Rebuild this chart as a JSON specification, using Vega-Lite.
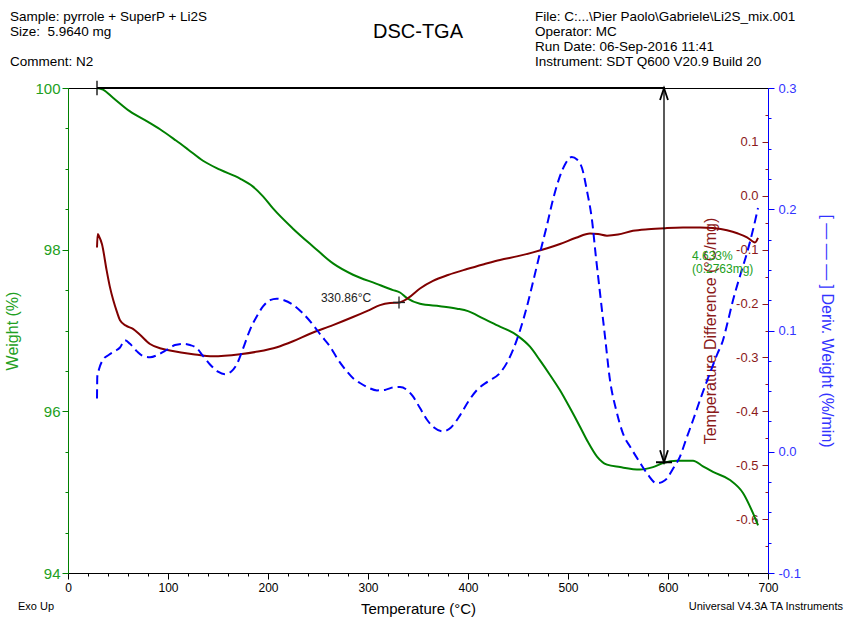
{
  "$schema": "https://vega.github.io/schema/vega-lite/v6.json",
  "width": 700,
  "height": 485,
  "autosize": {"type": "none"},
  "padding": {"left": 68, "top": 88, "right": 77, "bottom": 46},
  "background": "white",
  "config": {
    "view": {"stroke": "black", "strokeWidth": 1},
    "font": "Liberation Sans",
    "axis": {"grid": false, "labelFont": "Liberation Sans", "titleFont": "Liberation Sans", "titleFontWeight": "normal", "labelFlush": false, "labelOverlap": false}
  },
  "datasets": {
    "weight": [
      {"T":29,"W":100.0},{"T":35,"W":99.98},{"T":45,"W":99.88},{"T":62,"W":99.71},{"T":80,"W":99.58},{"T":92,"W":99.49},{"T":108,"W":99.35},{"T":120,"W":99.24},{"T":135,"W":99.1},{"T":152,"W":98.99},{"T":172,"W":98.88},{"T":185,"W":98.78},{"T":195,"W":98.66},{"T":205,"W":98.51},{"T":225,"W":98.26},{"T":245,"W":98.04},{"T":265,"W":97.83},{"T":285,"W":97.69},{"T":308,"W":97.58},{"T":325,"W":97.5},{"T":332,"W":97.47},{"T":339,"W":97.4},{"T":352,"W":97.33},{"T":372,"W":97.3},{"T":389,"W":97.27},{"T":400,"W":97.24},{"T":415,"W":97.15},{"T":430,"W":97.06},{"T":449,"W":96.94},{"T":462,"W":96.8},{"T":472,"W":96.63},{"T":482,"W":96.45},{"T":492,"W":96.26},{"T":502,"W":96.04},{"T":512,"W":95.81},{"T":520,"W":95.62},{"T":529,"W":95.44},{"T":539,"W":95.34},{"T":552,"W":95.31},{"T":572,"W":95.28},{"T":585,"W":95.31},{"T":595,"W":95.36},{"T":609,"W":95.39},{"T":625,"W":95.39},{"T":635,"W":95.32},{"T":645,"W":95.25},{"T":662,"W":95.15},{"T":675,"W":94.99},{"T":685,"W":94.74},{"T":690,"W":94.59}
    ],
    "dtd": [
      {"T":29,"DT":-0.096},{"T":29.7,"DT":-0.071},{"T":31,"DT":-0.075},{"T":34,"DT":-0.09},{"T":38.7,"DT":-0.139},{"T":42,"DT":-0.17},{"T":45.3,"DT":-0.194},{"T":49,"DT":-0.216},{"T":52,"DT":-0.231},{"T":58,"DT":-0.241},{"T":65,"DT":-0.247},{"T":72,"DT":-0.258},{"T":82,"DT":-0.275},{"T":92,"DT":-0.283},{"T":102,"DT":-0.287},{"T":125,"DT":-0.294},{"T":145,"DT":-0.298},{"T":172,"DT":-0.294},{"T":190,"DT":-0.289},{"T":209,"DT":-0.281},{"T":225,"DT":-0.27},{"T":242,"DT":-0.256},{"T":265,"DT":-0.24},{"T":285,"DT":-0.225},{"T":300,"DT":-0.213},{"T":312,"DT":-0.203},{"T":322,"DT":-0.199},{"T":331,"DT":-0.198},{"T":340,"DT":-0.19},{"T":352,"DT":-0.172},{"T":365,"DT":-0.158},{"T":380,"DT":-0.147},{"T":399,"DT":-0.136},{"T":416,"DT":-0.127},{"T":432,"DT":-0.119},{"T":450,"DT":-0.112},{"T":465,"DT":-0.105},{"T":480,"DT":-0.097},{"T":492,"DT":-0.0895},{"T":508,"DT":-0.078},{"T":522,"DT":-0.07},{"T":530,"DT":-0.071},{"T":539,"DT":-0.074},{"T":550,"DT":-0.072},{"T":565,"DT":-0.065},{"T":580,"DT":-0.062},{"T":599,"DT":-0.06},{"T":615,"DT":-0.059},{"T":632,"DT":-0.0587},{"T":645,"DT":-0.06},{"T":659,"DT":-0.064},{"T":670,"DT":-0.07},{"T":679,"DT":-0.077},{"T":687,"DT":-0.0865},{"T":690,"DT":-0.078}
    ],
    "deriv": [
      {"T":29,"D":0.044},{"T":29.3,"D":0.062},{"T":31,"D":0.068},{"T":35,"D":0.076},{"T":41,"D":0.08},{"T":47,"D":0.083},{"T":52,"D":0.086},{"T":57,"D":0.092},{"T":62,"D":0.089},{"T":68.7,"D":0.083},{"T":75,"D":0.079},{"T":82,"D":0.078},{"T":90,"D":0.08},{"T":98.7,"D":0.084},{"T":107,"D":0.088},{"T":115,"D":0.089},{"T":122,"D":0.088},{"T":128.7,"D":0.0855},{"T":135,"D":0.079},{"T":142,"D":0.072},{"T":150,"D":0.066},{"T":157,"D":0.064},{"T":163,"D":0.066},{"T":168.7,"D":0.072},{"T":175,"D":0.085},{"T":182,"D":0.1006},{"T":189,"D":0.112},{"T":195,"D":0.1198},{"T":202,"D":0.125},{"T":208.7,"D":0.1262},{"T":216,"D":0.125},{"T":225,"D":0.1212},{"T":235,"D":0.114},{"T":245,"D":0.1047},{"T":253,"D":0.096},{"T":262,"D":0.0868},{"T":270,"D":0.076},{"T":279,"D":0.0662},{"T":286,"D":0.06},{"T":292,"D":0.0567},{"T":300,"D":0.053},{"T":309,"D":0.0506},{"T":317,"D":0.051},{"T":325,"D":0.053},{"T":332,"D":0.0534},{"T":339,"D":0.051},{"T":345,"D":0.0456},{"T":352,"D":0.036},{"T":359,"D":0.0264},{"T":366,"D":0.02},{"T":375,"D":0.0168},{"T":383,"D":0.02},{"T":392,"D":0.03},{"T":400,"D":0.041},{"T":409,"D":0.051},{"T":420,"D":0.058},{"T":432,"D":0.065},{"T":440,"D":0.075},{"T":445,"D":0.084},{"T":452,"D":0.1},{"T":459,"D":0.12},{"T":465,"D":0.14},{"T":472,"D":0.164},{"T":479,"D":0.187},{"T":485,"D":0.208},{"T":491,"D":0.225},{"T":497,"D":0.237},{"T":503.7,"D":0.243},{"T":509,"D":0.241},{"T":514,"D":0.234},{"T":519,"D":0.215},{"T":524,"D":0.191},{"T":528,"D":0.16},{"T":532,"D":0.131},{"T":537,"D":0.095},{"T":542,"D":0.059},{"T":548,"D":0.035},{"T":555,"D":0.015},{"T":563,"D":0.003},{"T":572,"D":-0.009},{"T":580,"D":-0.019},{"T":588.7,"D":-0.026},{"T":594,"D":-0.025},{"T":599,"D":-0.022},{"T":605,"D":-0.014},{"T":612,"D":-0.004},{"T":618,"D":0.01},{"T":625,"D":0.026},{"T":633,"D":0.045},{"T":642,"D":0.065},{"T":649,"D":0.08},{"T":655,"D":0.092},{"T":660,"D":0.108},{"T":665,"D":0.125},{"T":672,"D":0.145},{"T":679,"D":0.164},{"T":685,"D":0.183},{"T":690,"D":0.201}
    ],
    "stepThick": [
      {"T":29,"T2":597,"W":100,"W2":100},
      {"T":588,"T2":604,"W":95.37,"W2":95.37}
    ],
    "stepThin": [
      {"T":29,"T2":29,"W":100.09,"W2":99.91},
      {"T":596,"T2":596,"W":100,"W2":95.37}
    ],
    "arrowUp": [{"T":596,"W":100}],
    "arrowDown": [{"T":596,"W":95.37}],
    "stepLabel": [{"T":624,"W":97.92,"label":"4.633%"},{"T":624,"W":97.76,"label":"(0.2763mg)"}],
    "onset": [
      {"T":325,"T2":337,"DT":-0.198,"DT2":-0.198},
      {"T":331,"T2":331,"DT":-0.187,"DT2":-0.209}
    ],
    "onsetLabel": [{"T":278,"DT":-0.189,"label":"330.86°C"}],
    "headerLeft": [
      {"T":-58,"W":100.878,"label":"Sample: pyrrole + SuperP + Li2S"},
      {"T":-58,"W":100.693,"label":"Size:\u00a0 5.9640 mg"},
      {"T":-58,"W":100.322,"label":"Comment: N2"},
      {"T":467,"W":100.878,"label":"File: C:...\\Pier Paolo\\Gabriele\\Li2S_mix.001"},
      {"T":467,"W":100.693,"label":"Operator: MC"},
      {"T":467,"W":100.507,"label":"Run Date: 06-Sep-2016 11:41"},
      {"T":467,"W":100.322,"label":"Instrument: SDT Q600 V20.9 Build 20"}
    ],
    "footerLeft": [
      {"T":-50,"W":93.579,"label":"Exo Up"}
    ],
    "footerRight": [
      {"T":775,"W":93.579,"label":"Universal V4.3A TA Instruments"}
    ],
    "mainTitle": [{"T":350,"W":100.693,"label":"DSC-TGA"}]
  },
  "encoding": {
    "x": {
      "field": "T", "type": "quantitative",
      "scale": {"domain": [0, 700], "nice": false, "zero": false},
      "axis": {
        "title": "Temperature (°C)",
        "values": [0,20,40,60,80,100,120,140,160,180,200,220,240,260,280,300,320,340,360,380,400,420,440,460,480,500,520,540,560,580,600,620,640,660,680,700],
        "labelExpr": "datum.value % 100 === 0 ? datum.label : ''",
        "tickSize": {"condition": {"test": "datum.value % 100 === 0", "value": 6}, "value": 3},
        "domainColor": "black", "tickColor": "black", "labelColor": "black", "titleColor": "black",
        "labelFontSize": 12, "titleFontSize": 15, "labelPadding": 3, "titlePadding": 8
      }
    }
  },
  "layer": [
    {
      "data": {"name": "weight"},
      "mark": {"type": "line", "color": "#008000", "strokeWidth": 2, "interpolate": "monotone"},
      "encoding": {
        "y": {
          "field": "W", "type": "quantitative",
          "scale": {"domain": [94, 100], "nice": false, "zero": false},
          "axis": {
            "orient": "left", "title": "Weight (%)",
            "values": [94,94.5,95,95.5,96,96.5,97,97.5,98,98.5,99,99.5,100],
            "labelExpr": "datum.value % 2 === 0 ? format(datum.value, 'd') : ''",
            "tickSize": {"condition": {"test": "datum.value % 2 === 0", "value": 6}, "value": 3},
            "domainColor": "#008000", "tickColor": "#008000", "labelColor": "#22A022", "titleColor": "#22A022",
            "labelFontSize": 15, "titleFontSize": 16, "labelPadding": 2, "titlePadding": 14
          }
        }
      }
    },
    {
      "data": {"name": "dtd"},
      "mark": {"type": "line", "color": "#800000", "strokeWidth": 2, "interpolate": "monotone"},
      "encoding": {
        "y": {
          "field": "DT", "type": "quantitative",
          "scale": {"domain": [-0.7, 0.2], "nice": false, "zero": false},
          "axis": {
            "orient": "left", "offset": -700, "title": "Temperature Difference (°C/mg)",
            "values": [-0.65,-0.6,-0.55,-0.5,-0.45,-0.4,-0.35,-0.3,-0.25,-0.2,-0.15,-0.1,-0.05,0,0.05,0.1,0.15],
            "labelExpr": "abs(datum.value*10 - round(datum.value*10)) < 0.001 ? replace(format(datum.value, '.1f'), '\u2212', '-') : ''",
            "tickSize": {"condition": {"test": "abs(datum.value*10 - round(datum.value*10)) < 0.001", "value": 6}, "value": 3},
            "domain": false,
            "tickColor": "#8B1A1A", "labelColor": "#8B1A1A", "titleColor": "#8B1A1A",
            "labelFontSize": 13, "titleFontSize": 16, "labelPadding": 4, "titlePadding": 17
          }
        }
      }
    },
    {
      "data": {"name": "deriv"},
      "mark": {"type": "line", "color": "#0000FF", "strokeWidth": 2, "strokeDash": [9, 5], "interpolate": "monotone"},
      "encoding": {
        "y": {
          "field": "D", "type": "quantitative",
          "scale": {"domain": [-0.1, 0.3], "nice": false, "zero": false},
          "axis": {
            "orient": "right", "title": "[ — — — ] Deriv. Weight (%/min)",
            "values": [-0.1,-0.075,-0.05,-0.025,0,0.025,0.05,0.075,0.1,0.125,0.15,0.175,0.2,0.225,0.25,0.275,0.3],
            "labelExpr": "abs(datum.value*10 - round(datum.value*10)) < 0.001 ? replace(format(datum.value, '.1f'), '\u2212', '-') : ''",
            "tickSize": {"condition": {"test": "abs(datum.value*10 - round(datum.value*10)) < 0.001", "value": 6}, "value": 3},
            "domainColor": "#0000FF", "tickColor": "#0000FF", "labelColor": "#3333FF", "titleColor": "#3333FF",
            "labelFontSize": 13, "titleFontSize": 16, "labelPadding": 4, "titlePadding": 18
          }
        }
      }
    },
    {
      "data": {"name": "stepThick"},
      "mark": {"type": "rule", "color": "black", "strokeWidth": 2},
      "encoding": {
        "x2": {"field": "T2"},
        "y": {"field": "W", "type": "quantitative", "scale": {"domain": [94, 100], "nice": false, "zero": false}, "axis": null},
        "y2": {"field": "W2"}
      }
    },
    {
      "data": {"name": "stepThin"},
      "mark": {"type": "rule", "color": "black", "strokeWidth": 1.3},
      "encoding": {
        "x2": {"field": "T2"},
        "y": {"field": "W", "type": "quantitative", "scale": {"domain": [94, 100], "nice": false, "zero": false}, "axis": null},
        "y2": {"field": "W2"}
      }
    },
    {
      "data": {"name": "arrowUp"},
      "mark": {"type": "point", "shape": "M-0.33,1L0,0L0.33,1", "filled": false, "stroke": "black", "strokeWidth": 1.8, "size": 576, "opacity": 1},
      "encoding": {
        "y": {"field": "W", "type": "quantitative", "scale": {"domain": [94, 100], "nice": false, "zero": false}, "axis": null}
      }
    },
    {
      "data": {"name": "arrowDown"},
      "mark": {"type": "point", "shape": "M-0.33,-1L0,0L0.33,-1", "filled": false, "stroke": "black", "strokeWidth": 1.8, "size": 576, "opacity": 1},
      "encoding": {
        "y": {"field": "W", "type": "quantitative", "scale": {"domain": [94, 100], "nice": false, "zero": false}, "axis": null}
      }
    },
    {
      "data": {"name": "stepLabel"},
      "mark": {"type": "text", "align": "left", "baseline": "middle", "fontSize": 12, "color": "#22A022"},
      "encoding": {
        "y": {"field": "W", "type": "quantitative", "scale": {"domain": [94, 100], "nice": false, "zero": false}, "axis": null},
        "text": {"field": "label"}
      }
    },
    {
      "data": {"name": "onset"},
      "mark": {"type": "rule", "color": "#222222", "strokeWidth": 1.3},
      "encoding": {
        "x2": {"field": "T2"},
        "y": {"field": "DT", "type": "quantitative", "scale": {"domain": [-0.7, 0.2], "nice": false, "zero": false}, "axis": null},
        "y2": {"field": "DT2"}
      }
    },
    {
      "data": {"name": "onsetLabel"},
      "mark": {"type": "text", "align": "center", "baseline": "middle", "fontSize": 12, "color": "#222222"},
      "encoding": {
        "y": {"field": "DT", "type": "quantitative", "scale": {"domain": [-0.7, 0.2], "nice": false, "zero": false}, "axis": null},
        "text": {"field": "label"}
      }
    },
    {
      "data": {"name": "headerLeft"},
      "mark": {"type": "text", "align": "left", "baseline": "middle", "fontSize": 13.5, "color": "black"},
      "encoding": {
        "y": {"field": "W", "type": "quantitative", "scale": {"domain": [94, 100], "nice": false, "zero": false}, "axis": null},
        "text": {"field": "label"}
      }
    },
    {
      "data": {"name": "footerLeft"},
      "mark": {"type": "text", "align": "left", "baseline": "middle", "fontSize": 11, "color": "black"},
      "encoding": {
        "y": {"field": "W", "type": "quantitative", "scale": {"domain": [94, 100], "nice": false, "zero": false}, "axis": null},
        "text": {"field": "label"}
      }
    },
    {
      "data": {"name": "footerRight"},
      "mark": {"type": "text", "align": "right", "baseline": "middle", "fontSize": 11, "color": "black"},
      "encoding": {
        "y": {"field": "W", "type": "quantitative", "scale": {"domain": [94, 100], "nice": false, "zero": false}, "axis": null},
        "text": {"field": "label"}
      }
    },
    {
      "data": {"name": "mainTitle"},
      "mark": {"type": "text", "align": "center", "baseline": "middle", "fontSize": 20, "color": "black"},
      "encoding": {
        "y": {"field": "W", "type": "quantitative", "scale": {"domain": [94, 100], "nice": false, "zero": false}, "axis": null},
        "text": {"field": "label"}
      }
    }
  ],
  "resolve": {"scale": {"y": "independent"}, "axis": {"y": "independent"}}
}
